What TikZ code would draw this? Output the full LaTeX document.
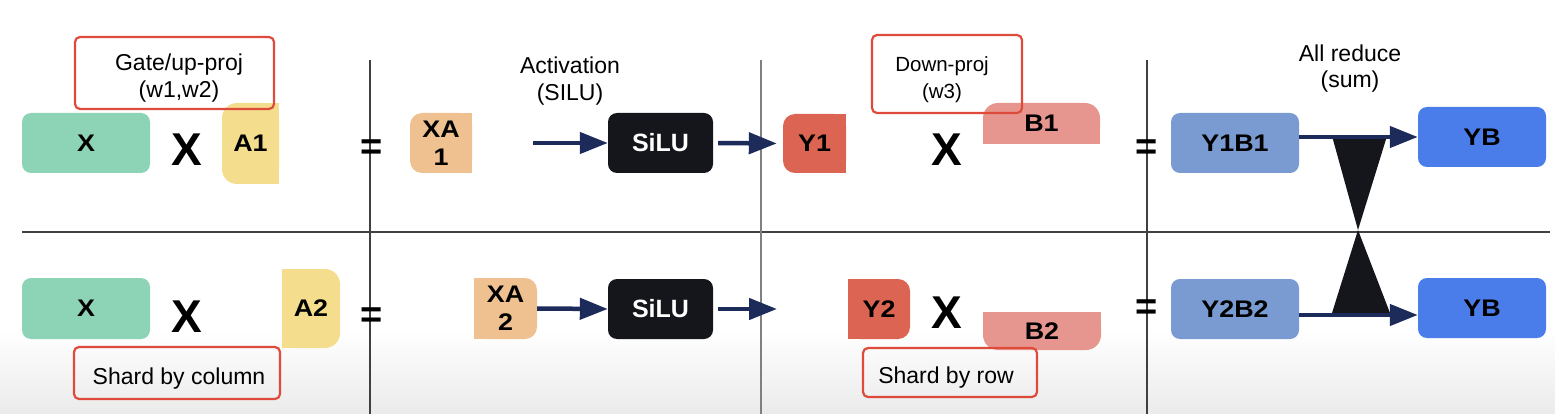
\documentclass[tikz,border=0pt]{standalone}
\usepackage{fontspec}
\setmainfont{Liberation Sans}
\newfontfamily\lblfont[FakeStretch=1.12]{Liberation Sans Bold}
\usetikzlibrary{arrows.meta,backgrounds}
\definecolor{cgreen}{HTML}{8DD3B5}
\definecolor{cyellow}{HTML}{F4DE8D}
\definecolor{corange}{HTML}{EFC190}
\definecolor{cred}{HTML}{DC6452}
\definecolor{cpink}{HTML}{E6968E}
\definecolor{cslate}{HTML}{7A9BD1}
\definecolor{cblue}{HTML}{4B7DEA}
\definecolor{csilu}{HTML}{14161B}
\definecolor{cnavy}{HTML}{1D2B5B}
\definecolor{cbox}{HTML}{DF4B3A}
\begin{document}
\begin{tikzpicture}[x=1pt,y=-1pt,
  lbl/.style={font=\fontsize{24}{28}\lblfont, text=black, align=center, inner sep=0pt},
  silu/.style={lbl, font=\fontsize{25}{28}\selectfont\bfseries, text=white, fill=csilu, rounded corners=9pt, minimum width=105pt, minimum height=60pt},
  bigx/.style={font=\fontsize{46}{50}\selectfont\bfseries, inner sep=0pt},
  eqsign/.style={font=\fontsize{38}{40}\selectfont\bfseries, inner sep=0pt},
  redbox/.style={draw=cbox, line width=2.2pt, rounded corners=5pt},
  txt/.style={font=\fontsize{23}{27}\selectfont, align=center, inner sep=0pt},
  divider/.style={draw=black!75, line width=1.5pt},
  flow/.style={draw=cnavy, line width=4.5pt, -{Triangle[length=28pt,width=21pt]}},
]
\useasboundingbox (0,0) rectangle (1555,414);

% dividers
\draw[divider] (22,232) -- (1550,232);
\draw[divider] (370,60) -- (370,414);
\draw[divider, draw=black!50] (761,60) -- (761,414);
\draw[divider] (1147,60) -- (1147,414);

% all-reduce bowtie
\fill[csilu] (1332,136) -- (1387,136) -- (1358,230) -- cycle;
\fill[csilu] (1358,230) -- (1390,313) -- (1332,313) -- cycle;

% ---------- row 1 ----------
\node[lbl, fill=cgreen, rounded corners=9pt, minimum width=128pt, minimum height=60pt] (X1) at (86,143) {X};
\node[bigx] (m1) at (187,150) {X};
\node[lbl, fill=cyellow, rounded corners=15pt, minimum width=57pt, minimum height=81pt] (A1) at (250.5,143.5) {A1};
\node[eqsign] (e1) at (372,150) {=};
\node[lbl, fill=corange, rounded corners=12pt, minimum width=62pt, minimum height=60pt] (XA1) at (441,143) {XA\\1};
\node[silu] (S1) at (660.5,143) {SiLU};
\node[lbl, fill=cred, rounded corners=12pt, minimum width=63pt, minimum height=59pt] (Y1) at (814.5,143.5) {Y1};
\node[bigx] (m3) at (947,150) {X};
\node[lbl, fill=cpink, rounded corners=15pt, minimum width=117pt, minimum height=41pt] (B1) at (1041.5,123.5) {B1};
\node[eqsign] (e3) at (1147,150) {=};
\node[lbl, fill=cslate, rounded corners=9pt, minimum width=128pt, minimum height=60pt] (Y1B1) at (1235,143) {Y1B1};
\node[lbl, fill=cblue, rounded corners=9pt, minimum width=128pt, minimum height=60pt] (YB1) at (1482,137) {YB};

% ---------- row 2 ----------
\node[lbl, fill=cgreen, rounded corners=9pt, minimum width=128pt, minimum height=61pt] (X2) at (86,308.5) {X};
\node[bigx] (m2) at (187,317) {X};
\node[lbl, fill=cyellow, rounded corners=15pt, minimum width=58pt, minimum height=79pt] (A2) at (311,308.5) {A2};
\node[eqsign] (e2) at (372,318) {=};
\node[lbl, fill=corange, rounded corners=12pt, minimum width=63pt, minimum height=61pt] (XA2) at (505.5,308.5) {XA\\2};
\node[silu] (S2) at (660.5,309) {SiLU};
\node[lbl, fill=cred, rounded corners=12pt, minimum width=62pt, minimum height=60pt] (Y2) at (879,309) {Y2};
\node[bigx] (m4) at (947,313) {X};
\node[lbl, fill=cpink, rounded corners=15pt, minimum width=118pt, minimum height=38pt] (B2) at (1042,331) {B2};
\node[eqsign] (e4) at (1147,310) {=};
\node[lbl, fill=cslate, rounded corners=9pt, minimum width=128pt, minimum height=60pt] (Y2B2) at (1235,309) {Y2B2};
\node[lbl, fill=cblue, rounded corners=9pt, minimum width=128pt, minimum height=60pt] (YB2) at (1482,308) {YB};

% page shading and square corners of the partly rounded blocks
\begin{scope}[on background layer]
  \shade[top color=white, bottom color=black!8] (0,330) rectangle (1555,414);
  \fill[cyellow] (A1.north) rectangle (A1.south east);
  \fill[corange] (XA1.north) rectangle (XA1.south east);
  \fill[cred] (Y1.north) rectangle (Y1.south east);
  \fill[cpink] (B1.west) rectangle (B1.south east);
  \fill[cyellow] (A2.north west) rectangle (A2.south);
  \fill[corange] (XA2.north west) rectangle (XA2.south);
  \fill[cred] (Y2.north west) rectangle (Y2.south);
  \fill[cpink] (B2.north west) rectangle (B2.east);
\end{scope}

% connectors
\coordinate (in1) at (533,143);
\coordinate (out2) at (777,309);
\coordinate (yb2in) at ([yshift=-7pt]YB2.west);
\draw[flow] (in1) -- (S1.west);
\draw[flow, shorten <=5pt, shorten >=6pt] (S1.east) -- (Y1.west);
\draw[flow] (XA2.east) -- (S2.west);
\draw[flow, shorten <=5pt] (S2.east) -- (out2);
\draw[flow] (Y1B1.east |- YB1.west) -- (YB1.west);
\draw[flow] (Y2B2.east |- yb2in) -- (yb2in);

% headings
\node[txt] (act) at (570,81) {Activation\\(SILU)};
\node[txt, font=\fontsize{23}{26}\selectfont] (ared) at (1350,69) {All reduce\\(sum)};

% red annotation boxes
\node[redbox, minimum width=199pt, minimum height=72pt] (gate) at (174.5,73) {};
\node[txt, font=\fontsize{23}{27.3}\selectfont] (gatetxt) at (179,78) {Gate/up-proj\\(w1,w2)};
\node[redbox, minimum width=150pt, minimum height=78pt] (down) at (947,74) {};
\node[txt, font=\fontsize{20.5}{27}\selectfont] (downtxt) at (942,80) {Down-proj\\(w3)};
\node[redbox, minimum width=206pt, minimum height=52pt] (scol) at (177,373) {};
\node[txt] (scoltxt) at (179,379) {Shard by column};
\node[redbox, minimum width=174pt, minimum height=49pt] (srow) at (950,372.5) {};
\node[txt] (srowtxt) at (946,378) {Shard by row};
\end{tikzpicture}
\end{document}
